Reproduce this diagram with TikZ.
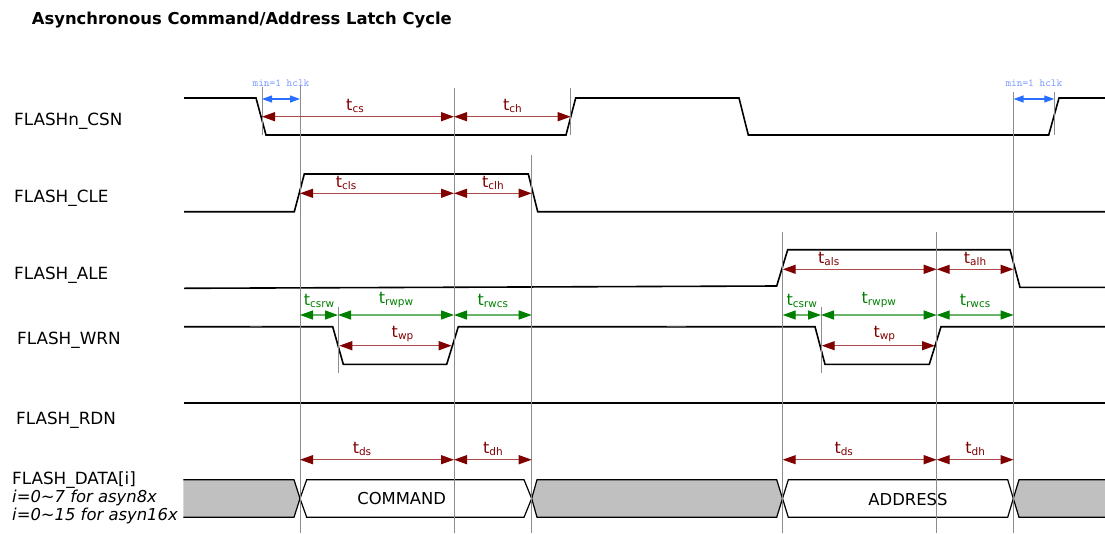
\documentclass[tikz,border=0pt]{standalone}
\usepackage{fontspec}
\setmainfont{DejaVu Sans}
\usetikzlibrary{arrows.meta}
\definecolor{tred}{RGB}{128,0,0}
\definecolor{tredline}{RGB}{172,72,72}
\definecolor{tgreen}{RGB}{0,128,0}
\definecolor{tgreenline}{RGB}{105,180,105}
\definecolor{tblue}{RGB}{40,110,255}
\definecolor{tbluetext}{RGB}{120,150,255}
\definecolor{busgray}{RGB}{192,192,192}
\newcommand{\tparam}[1]{t{\fontsize{10.5}{12}\selectfont\raisebox{-2pt}{#1}}}

\begin{document}
\begin{tikzpicture}[
      x=1pt, y=-1pt,
      sig/.style={draw=black, line width=1.6pt},
      bus/.style={draw=black, line width=1.2pt},
      guide/.style={draw=black!45, line width=1pt},
      dimred/.style={
        draw=tredline,
        line width=1.3pt,
        {Triangle[length=13pt,width=9pt,color=tred]}-{Triangle[length=13pt,width=9pt,color=tred]}
      },
      dimgreen/.style={
        draw=tgreenline,
        line width=1.3pt,
        {Triangle[length=13pt,width=9pt,color=tgreen]}-{Triangle[length=13pt,width=9pt,color=tgreen]}
      },
      dimblue/.style={
        draw=tblue,
        line width=1.2pt,
        {Triangle[length=10pt,width=7pt]}-{Triangle[length=10pt,width=7pt]}
      },
      sname/.style={anchor=base west, inner sep=0pt, font=\fontsize{16.8}{20}\selectfont},
      tlbl/.style={above=2pt, inner sep=1pt, text=tred, font=\fontsize{16}{18}\selectfont},
      glbl/.style={above=6pt, inner sep=1pt, text=tgreen, font=\fontsize{16}{18}\selectfont},
      hclk/.style={above=11.5pt, inner sep=0pt, text=tbluetext, font=\ttfamily\fontsize{10.8}{12}\selectfont}
    ]
    \useasboundingbox (0,0) rectangle (1105,533);

    % title and signal names
    \node[anchor=base west, inner sep=0pt, font=\bfseries\fontsize{16.4}{18}\selectfont]
      (title) at (31.7,24) {Asynchronous Command/Address Latch Cycle};
    \node[sname] (csn) at (14,125) {FLASHn\_CSN};
    \node[sname] (cle) at (14,202.7) {FLASH\_CLE};
    \node[sname] (ale) at (14,279.3) {FLASH\_ALE};
    \node[sname] (wrn) at (17,344) {FLASH\_WRN};
    \node[sname] (rdn) at (16,424.3) {FLASH\_RDN};
    \node[sname] (data) at (12,484) {FLASH\_DATA[i]};
    \node[sname, font=\itshape\fontsize{16.4}{18}\selectfont] (w8) at (12,502.7) {i=0\textasciitilde7 for asyn8x};
    \node[sname, font=\itshape\fontsize{16.4}{18}\selectfont] (w16) at (12,520.7) {i=0\textasciitilde15 for asyn16x};

    % waveforms
    \draw[sig] (184,98) -- (256,98) -- (266,135) -- (566,135) -- (575.7,98) -- (739,98)
      -- (748.3,135) -- (1048.7,135) -- (1059,98) -- (1105,98);
    \draw[sig] (184,211.7) -- (294.3,211.7) -- (304.3,174) -- (528.3,174) -- (537.7,211.7) -- (1105,211.7);
    \draw[sig] (184,288.3) -- (776.7,286) -- (787.7,249.7) -- (1010,249.7) -- (1020,287.3) -- (1105,287.3);
    \draw[sig] (184,326.7) -- (332.7,326.7) -- (343.3,364.3) -- (446.7,364.3) -- (458.3,326.7)
      -- (815,326.7) -- (825,364.3) -- (929.3,364.3) -- (941,326.7) -- (1105,326.7);
    \draw[black!70, line width=2.4pt] (250,326.7) -- (262,326.7) (667,326.7) -- (686,326.7);
    \draw[sig] (184,402.7) -- (1105,402.7);

    % data bus
    \fill[busgray] (183.3,479.7) -- (294,479.7) -- (300,498.5) -- (294,517.3) -- (183.3,517.3) -- cycle;
    \draw[bus] (183.3,479.7) -- (294,479.7) -- (300,498.5) -- (294,517.3) -- (183.3,517.3);
    \draw[bus, fill=white] (300,498.5) -- (306.7,479.7) -- (524,479.7) -- (531.7,498.5)
      -- (524,517.3) -- (306.7,517.3) -- cycle;
    \draw[bus, fill=busgray] (531.7,498.5) -- (537,479.7) -- (776.7,479.7) -- (782.5,498.5)
      -- (776.7,517.3) -- (537,517.3) -- cycle;
    \draw[bus, fill=white] (782.5,498.5) -- (788.3,479.7) -- (1007.7,479.7) -- (1013.3,498.5)
      -- (1007.7,517.3) -- (788.3,517.3) -- cycle;
    \fill[busgray] (1013.3,498.5) -- (1019,479.7) -- (1105,479.7) -- (1105,517.3) -- (1019,517.3) -- cycle;
    \draw[bus] (1105,479.7) -- (1019,479.7) -- (1013.3,498.5) -- (1019,517.3) -- (1105,517.3);
    \node[font=\fontsize{16.4}{18}\selectfont] (cmd) at (401.7,498.5) {COMMAND};
    \node[font=\fontsize{16.4}{18}\selectfont] (addr) at (908,500) {ADDRESS};

    % timing guides
    \foreach \gx/\gtop/\gbot in {262/87/135, 300/85/533, 454/88/533, 531.7/155/533, 570.7/88/135,
        338/306.7/373.3, 782.7/232/533, 821/306.7/373.3, 936.7/232/533, 1013.5/92/533, 1054.3/92/135}
      \draw[guide] (\gx,\gtop) -- (\gx,\gbot);

    % FLASHn_CSN timings
    \coordinate (hkA) at (262,99);
    \coordinate (hkB) at (300,99);
    \coordinate (hkC) at (1013.5,99);
    \coordinate (hkD) at (1054.3,99);
    \draw[dimblue] (hkA) -- node[hclk] {min=1 hclk} (hkB);
    \draw[dimblue] (hkC) -- node[hclk] {min=1 hclk} (hkD);
    \coordinate (csA) at (262,116.7);
    \coordinate (csB) at (454,116.7);
    \coordinate (csC) at (570.7,116.7);
    \draw[dimred] (csA) -- node[tlbl, xshift=-3pt] {\tparam{cs}} (csB);
    \draw[dimred] (csB) -- node[tlbl] {\tparam{ch}} (csC);

    % FLASH_CLE timings
    \coordinate (clA) at (300,193.3);
    \coordinate (clB) at (454,193.3);
    \coordinate (clC) at (531.7,193.3);
    \draw[dimred] (clA) -- node[tlbl, xshift=-31pt] {\tparam{cls}} (clB);
    \draw[dimred] (clB) -- node[tlbl] {\tparam{clh}} (clC);

    % FLASH_ALE timings
    \coordinate (alA) at (782.7,269.3);
    \coordinate (alB) at (936.7,269.3);
    \coordinate (alC) at (1013.5,269.3);
    \draw[dimred] (alA) -- node[tlbl, xshift=-31pt] {\tparam{als}} (alB);
    \draw[dimred] (alB) -- node[tlbl] {\tparam{alh}} (alC);

    % FLASH_WRN timings
    \coordinate (wlA) at (300,315);
    \coordinate (wlB) at (338,315);
    \coordinate (wlC) at (454,315);
    \coordinate (wlD) at (531.7,315);
    \draw[dimgreen] (wlA) -- node[glbl] {\tparam{csrw}} (wlB);
    \draw[dimgreen] (wlB) -- node[glbl] {\tparam{rwpw}} (wlC);
    \draw[dimgreen] (wlC) -- node[glbl] {\tparam{rwcs}} (wlD);
    \coordinate (wrA) at (782.7,315);
    \coordinate (wrB) at (821,315);
    \coordinate (wrC) at (936.7,315);
    \coordinate (wrD) at (1013.5,315);
    \draw[dimgreen] (wrA) -- node[glbl] {\tparam{csrw}} (wrB);
    \draw[dimgreen] (wrB) -- node[glbl] {\tparam{rwpw}} (wrC);
    \draw[dimgreen] (wrC) -- node[glbl] {\tparam{rwcs}} (wrD);
    \coordinate (wpA) at (339.3,345.7);
    \coordinate (wpB) at (451.7,345.7);
    \coordinate (wpC) at (821.7,345.7);
    \coordinate (wpD) at (935,345.7);
    \draw[dimred] (wpA) -- node[tlbl, xshift=7pt] {\tparam{wp}} (wpB);
    \draw[dimred] (wpC) -- node[tlbl, xshift=6pt] {\tparam{wp}} (wpD);

    % FLASH_DATA timings
    \coordinate (dlA) at (300,459.7);
    \coordinate (dlB) at (454,459.7);
    \coordinate (dlC) at (531.7,459.7);
    \draw[dimred] (dlA) -- node[tlbl, xshift=-15pt] {\tparam{ds}} (dlB);
    \draw[dimred] (dlB) -- node[tlbl] {\tparam{dh}} (dlC);
    \coordinate (drA) at (782.7,459.7);
    \coordinate (drB) at (936.7,459.7);
    \coordinate (drC) at (1013.5,459.7);
    \draw[dimred] (drA) -- node[tlbl, xshift=-16pt] {\tparam{ds}} (drB);
    \draw[dimred] (drB) -- node[tlbl] {\tparam{dh}} (drC);
  \end{tikzpicture}
\end{document}
